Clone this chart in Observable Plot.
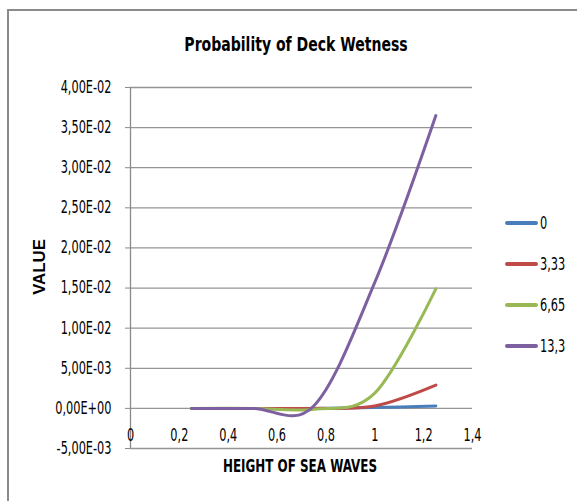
<!DOCTYPE html>
<html>
<head>
<meta charset="utf-8">
<script src="https://cdn.jsdelivr.net/npm/d3@7"></script>
<script src="https://cdn.jsdelivr.net/npm/@observablehq/plot@0.6"></script>
<style>
html, body { margin: 0; padding: 0; background: #fff; overflow: hidden; }
#wrap { position: relative; width: 577px; height: 501px; overflow: hidden;
  font-family: 'Liberation Sans Narrow', 'DejaVu Sans Condensed', 'Liberation Sans', sans-serif; color: #000; }
#frame { position: absolute; left: 7px; top: 9px; width: 640px; height: 600px; border: 2px solid #8a8a8a; box-sizing: border-box; }
#chart { position: absolute; left: 0; top: 0; }
.title { position: absolute; left: 0; width: 592px; top: 31px; text-align: center; font-weight: bold; font-size: 20px; line-height: 26px;
  transform: scaleX(0.78); }
.xlabel { position: absolute; left: 0; width: 600px; top: 456px; text-align: center; font-weight: bold; font-size: 17px; line-height: 20px;
  transform: scaleX(0.78); }
.ylabel { position: absolute; left: 40px; top: 267px; font-family: 'Liberation Sans', sans-serif; font-weight: bold; font-size: 16px; line-height: 16px;
  transform: translate(-50%, -50%) rotate(-90deg) scaleX(1.05); white-space: nowrap; }
.leg { position: absolute; left: 505px; height: 20px; }
.leg .sw { position: absolute; left: 0; top: 8px; width: 33px; height: 4px; border-radius: 2px; }
.leg .lb { position: absolute; left: 35px; top: 0; font-size: 14px; line-height: 20px; white-space: nowrap;
  transform-origin: 0 50%; transform: scale(0.9, 1.2); }
</style>
</head>
<body>
<div id="wrap">
  <div id="frame"></div>
  <div id="chart"></div>
  <div class="title" id="title"></div>
  <div class="xlabel" id="xlabel"></div>
  <div class="ylabel" id="ylabel"></div>
  <div id="legend"></div>
</div>
<script>
// ---- data ----
const titleText = "Probability of Deck Wetness";
const xTitle = "HEIGHT OF SEA WAVES";
const yTitle = "VALUE";

const xValues = [0.25, 0.5, 0.75, 1.0, 1.25];
const seriesNames = ["0", "3,33", "6,65", "13,3"];
const seriesColors = ["#4a7ebb", "#be4b48", "#98b954", "#7d60a0"];
const values0   = [0, 0, 0,       0.0001, 0.0003];
const values333 = [0, 0, 0,       0.0003, 0.0029];
const values665 = [0, 0, -0.0001, 0.0019, 0.0149];
const values133 = [0, 0, 0.0003,  0.0157, 0.0365];
const seriesValues = [values0, values333, values665, values133];

const xTicks = [0, 0.2, 0.4, 0.6, 0.8, 1.0, 1.2, 1.4];
const xTickLabels = ["0", "0,2", "0,4", "0,6", "0,8", "1", "1,2", "1,4"];
const yTicks = [-0.005, 0, 0.005, 0.01, 0.015, 0.02, 0.025, 0.03, 0.035, 0.04];
const yTickLabels = ["-5,00E-03", "0,00E+00", "5,00E-03", "1,00E-02", "1,50E-02",
  "2,00E-02", "2,50E-02", "3,00E-02", "3,50E-02", "4,00E-02"];

// ---- build ----
const rows = seriesNames.flatMap((s, si) =>
  xValues.map((x, i) => ({ series: s, x, y: seriesValues[si][i] })));

const font = "'Liberation Sans Narrow', 'DejaVu Sans Condensed', 'Liberation Sans', sans-serif";

const chart = Plot.plot({
  width: 577,
  height: 501,
  marginLeft: 130,
  marginRight: 105,
  marginTop: 87,
  marginBottom: 53,
  x: { domain: [0, 1.4] },
  y: { domain: [-0.005, 0.04] },
  color: { domain: seriesNames, range: seriesColors },
  style: { fontFamily: font, fontSize: "14px", color: "#000", background: "transparent" },
  marks: [
    Plot.gridY(yTicks, { stroke: "#959595", strokeOpacity: 1, strokeWidth: 1.3 }),
    Plot.ruleX([0], { stroke: "#8a8a8a", strokeWidth: 1.3 }),
    Plot.axisY(yTicks, {
      tickFormat: d => yTickLabels[yTicks.indexOf(d)],
      tickSize: 5, tickPadding: 14, stroke: "#8a8a8a", label: null
    }),
    Plot.axisX(xTicks, {
      tickFormat: d => xTickLabels[xTicks.indexOf(d)],
      tickSize: 0, tickPadding: 0, dy: -19, label: null
    }),
    Plot.line(rows, {
      x: "x", y: "y", z: "series", stroke: "series",
      strokeWidth: 3, curve: "cardinal", strokeLinecap: "round"
    })
  ]
});

// narrow & tall tick text, like the original's condensed font
chart.querySelectorAll('g[aria-label$="tick label"] text').forEach(t => {
  let tr = t.getAttribute("transform");
  if (!tr) {
    const x = t.getAttribute("x") || 0, y = t.getAttribute("y") || 0;
    t.removeAttribute("x"); t.removeAttribute("y");
    tr = `translate(${x},${y})`;
  }
  t.setAttribute("transform", tr + " scale(0.9,1.2)");
});

document.getElementById("chart").appendChild(chart);

document.getElementById("title").textContent = titleText;
document.getElementById("xlabel").textContent = xTitle;
document.getElementById("ylabel").textContent = yTitle;

const legend = document.getElementById("legend");
seriesNames.forEach((s, i) => {
  const item = document.createElement("div");
  item.className = "leg";
  item.style.top = (213 + i * 41) + "px";
  const sw = document.createElement("div");
  sw.className = "sw";
  sw.style.background = seriesColors[i];
  const lb = document.createElement("div");
  lb.className = "lb";
  lb.textContent = s;
  item.appendChild(sw);
  item.appendChild(lb);
  legend.appendChild(item);
});
</script>
</body>
</html>
